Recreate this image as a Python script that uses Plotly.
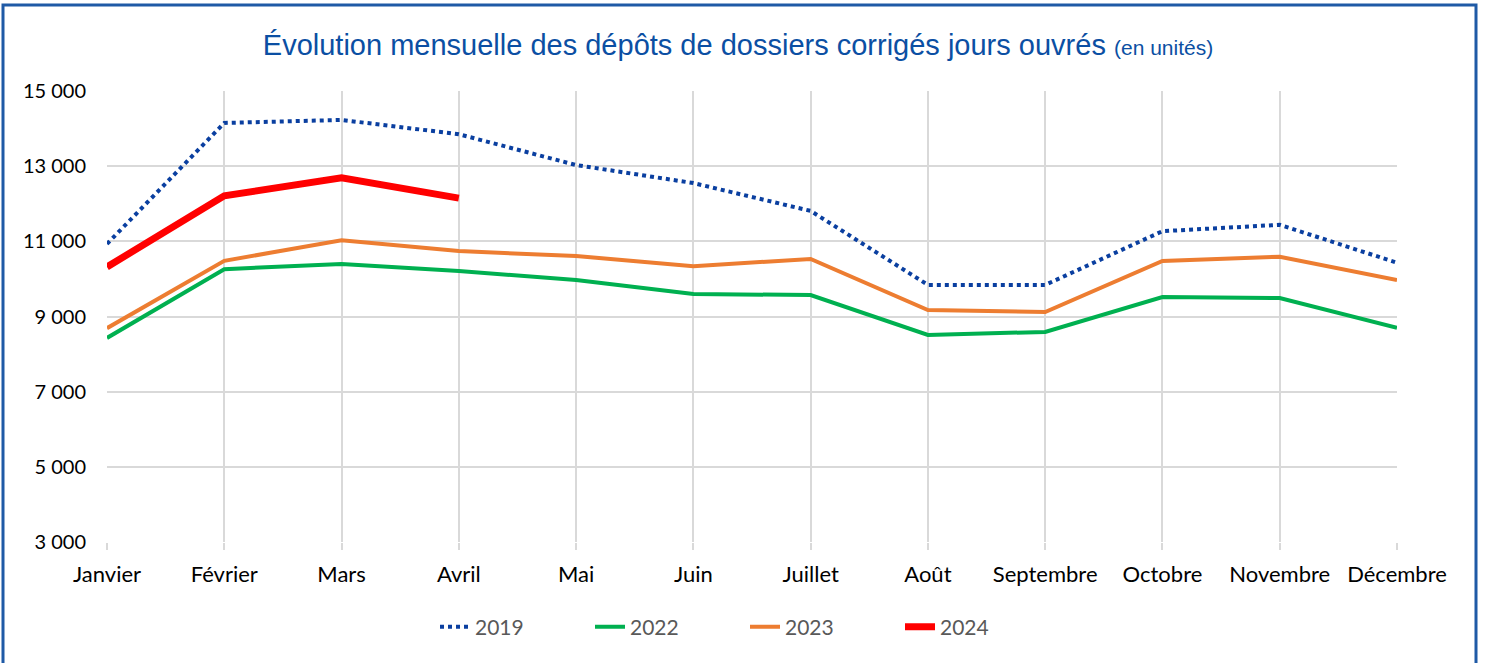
import plotly.graph_objects as go

months = ["Janvier", "Février", "Mars", "Avril", "Mai", "Juin", "Juillet",
          "Août", "Septembre", "Octobre", "Novembre", "Décembre"]
v2019 = [10930, 14150, 14230, 13850, 13030, 12550, 11810, 9840, 9840, 11270, 11440, 10430]
v2022 = [8430, 10260, 10400, 10210, 9970, 9600, 9570, 8510, 8590, 9520, 9490, 8700]
v2023 = [8690, 10480, 11030, 10740, 10610, 10340, 10530, 9170, 9120, 10480, 10590, 9970]
v2024 = [10320, 12210, 12690, 12150]
ytick_vals = [3000, 5000, 7000, 9000, 11000, 13000, 15000]

fig = go.Figure()
fig.add_trace(go.Scatter(x=months, y=v2019, name="2019", mode="lines",
                         line=dict(color="#0A3FA0", width=4, dash="dot")))
fig.add_trace(go.Scatter(x=months, y=v2022, name="2022", mode="lines",
                         line=dict(color="#00B050", width=4)))
fig.add_trace(go.Scatter(x=months, y=v2023, name="2023", mode="lines",
                         line=dict(color="#ED7D31", width=4)))
fig.add_trace(go.Scatter(x=months[:len(v2024)], y=v2024, name="2024", mode="lines",
                         line=dict(color="#FF0000", width=7)))

fig.update_layout(
    width=1485, height=663,
    margin=dict(l=107, r=88, t=91, b=121),
    paper_bgcolor="white", plot_bgcolor="white",
    separators=", ",
    title=dict(
        text="Évolution mensuelle des dépôts de dossiers corrigés jours ouvrés <span style='font-size:21px'>(en unités)</span>",
        x=(738 - 107) / 1290, xanchor="center", xref="paper", y=1 - 45 / 663, yanchor="middle",
        font=dict(family="Liberation Sans, Arial", size=29, color="#0B4FA3"),
    ),
    font=dict(family="Lato, Open Sans, sans-serif", size=20, color="#000000"),
    xaxis=dict(
        type="category", range=[0, 11], showgrid=True, gridcolor="#D9D9D9", gridwidth=2,
        ticks="outside", ticklen=7, tickcolor="#D9D9D9", tickwidth=2,
        showline=False, zeroline=False, ticklabelstandoff=6,
        tickfont=dict(size=22, color="#000000"),
    ),
    yaxis=dict(
        range=[3000, 15000], tickvals=ytick_vals, tickformat=",d",
        showgrid=True, gridcolor="#D9D9D9", gridwidth=2, zeroline=False,
        showline=False, ticks="", ticklabelstandoff=20,
        tickfont=dict(size=20, color="#000000"),
    ),
    legend=dict(
        orientation="h", x=(745 - 107) / 1290, xanchor="center", y=-(627 - 542) / 451, yanchor="middle",
        font=dict(size=21, color="#595959"), entrywidth=110, entrywidthmode="pixels",
        traceorder="normal",
    ),
    showlegend=True,
)

fig.add_shape(type="rect", xref="paper", yref="paper",
              x0=(3 - 107) / 1290, x1=(1476 - 107) / 1290,
              y0=(542 - 675) / 451, y1=(542 - 5) / 451,
              line=dict(color="#1F5AA6", width=3), fillcolor="rgba(0,0,0,0)", layer="below")

fig.write_html("out.html", config={"displayModeBar": False},
               post_script="document.body.style.margin='0';")
